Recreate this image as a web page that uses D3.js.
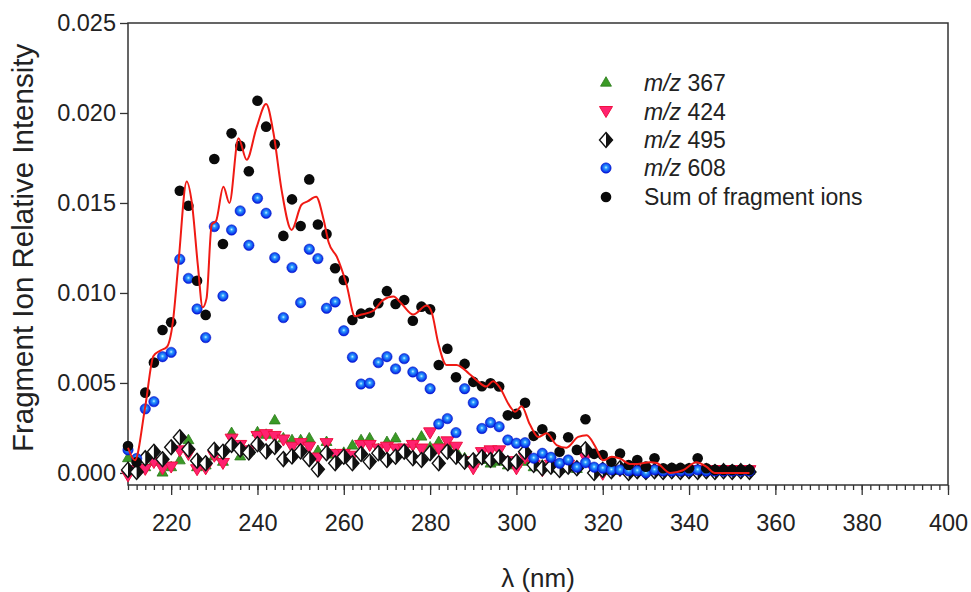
<!DOCTYPE html>
<html>
<head>
<meta charset="utf-8">
<script src="https://cdn.jsdelivr.net/npm/d3@7"></script>
<style>
  body { margin: 0; background: #fff; }
  text { font-family: "Liberation Sans", Arial, sans-serif; fill: #222; }
</style>
</head>
<body>
<div id="chart"></div>
<script>
// wavelength grid (nm)
const wavelength = [210,212,214,216,218,220,222,224,226,228,230,232,234,236,238,240,242,244,246,248,
  250,252,254,256,258,260,262,264,266,268,270,272,274,276,278,280,282,284,286,288,
  290,292,294,296,298,300,302,304,306,308,310,312,314,316,318,320,322,324,326,328,
  330,332,334,336,338,340,342,344,346,348,350,352,354];

// m/z 367
const mz367 = [0.0008,0.0003,0.0003,0.0006,0.0,0.0003,0.00068,0.0018,0.0003,0.0004,
  0.0009,0.0006,0.0022,0.0009,0.0012,0.00224,0.0021,0.0029,0.0019,0.0018,
  0.0018,0.0019,0.0012,0.0017,0.001,0.0011,0.0015,0.0018,0.0019,0.0013,
  0.0017,0.0019,0.0012,0.0016,0.002,0.0014,0.0017,0.0016,0.0012,0.0008,
  0.0005,0.0007,0.0005,0.0006,0.0004,0.0005,0.0006,0.0003,0.0004,0.0003,
  0.0002,0.0003,0.0002,0.0006,0.0001,0.0001,0.0001,0.0001,0.0001,0.0001,
  0.0001,0.0001,0.0001,0.0001,0.0001,0.0001,0.0001,0.0001,0.0001,0.0001,
  0.0001,0.0001,0.0001];

// m/z 424
const mz424 = [-0.0002,0.0001,0.00017,0.00055,0.0002,0.0003,0.0012,0.001,0.00015,0.0002,
  0.0009,0.0005,0.00185,0.0015,0.0012,0.002,0.0021,0.002,0.0018,0.0014,
  0.0016,0.0014,0.0008,0.0016,0.001,0.001,0.0009,0.0015,0.0015,0.0013,
  0.0014,0.0013,0.0013,0.0015,0.0013,0.0022,0.0013,0.0017,0.0014,0.0006,
  0.0002,0.0011,0.0012,0.0012,0.0006,0.0002,0.0008,0.0004,0.0001,0.0004,
  0.0002,0.0004,0.0002,0.0008,0.0001,-0.0001,0.0001,0.0001,0.0001,0.0001,
  0.0001,0.0001,0.0001,0.0001,0.0001,0.0001,0.0001,0.0001,0.0001,0.0001,
  0.0001,0.0001,0.0001];

// m/z 495
const mz495 = [0.00017,0.00005,0.00082,0.00118,0.00076,0.00143,0.00198,0.00131,0.00068,0.00054,
  0.00128,0.00118,0.00155,0.0013,0.00114,0.0016,0.0012,0.00145,0.00077,0.00092,
  0.0012,0.00077,0.0002,0.0011,0.00054,0.0009,0.00054,0.00105,0.00063,0.0011,
  0.00072,0.0009,0.00118,0.00082,0.00072,0.0011,0.00054,0.00118,0.0009,0.00063,
  0.0007,0.00087,0.00072,0.00087,0.00054,0.00063,0.00118,0.00045,0.00026,0.00035,
  0.00017,0.00035,0.00026,0.00131,0.0,0.00017,0.0001,0.00026,0.0,0.0001,
  0.00005,0.0001,0.00005,0.0001,0.00005,0.0001,0.00005,0.0001,0.00005,0.0001,
  0.00005,0.0001,0.00005];

// m/z 608
const mz608 = [0.00128,0.0008,0.00356,0.00396,0.00646,0.0067,0.01187,0.01081,0.00911,0.00752,
  0.01369,0.00983,0.0135,0.01456,0.01265,0.01526,0.01443,0.01196,0.00863,0.01141,
  0.00946,0.01243,0.01191,0.00915,0.0095,0.0079,0.00643,0.00494,0.00498,0.00613,
  0.00646,0.00578,0.00635,0.00561,0.00535,0.00468,0.00272,0.00302,0.00224,0.00468,
  0.0039,0.00247,0.0028,0.00257,0.00183,0.00165,0.00168,0.00082,0.00109,0.00087,
  0.00054,0.00072,0.00032,0.00057,0.00032,0.00026,0.00017,0.00017,0.00012,0.00012,
  0.0,0.00017,0.0001,0.0001,0.0001,0.0001,0.00017,0.0001,0.0001,0.0001,
  0.0001,0.0001,0.0001];

// sum of fragment ions
const sumIons = [0.0015,0.0006,0.00446,0.00613,0.00794,0.00837,0.01568,0.01485,0.01068,0.00878,
  0.01744,0.01272,0.01887,0.01817,0.01676,0.02068,0.01924,0.01826,0.01317,0.0152,
  0.01372,0.01631,0.0138,0.01328,0.01137,0.01072,0.0085,0.00885,0.0089,0.00943,
  0.0101,0.00939,0.00961,0.00846,0.00924,0.00909,0.006,0.0069,0.00532,0.00606,
  0.00506,0.00482,0.00498,0.0048,0.0032,0.00328,0.0039,0.00206,0.00243,0.00202,
  0.00118,0.00198,0.00128,0.00298,0.00106,0.001,0.00063,0.00108,0.00044,0.00072,
  0.00035,0.00081,0.00026,0.00028,0.00028,0.00026,0.00081,0.00026,0.00017,0.00017,
  0.00017,0.00017,0.00017];

// red smoothed curve
const fitNm = [210,211.6,214,215.9,217.5,219,220.4,221.7,223.6,224.8,226.2,227.3,228.2,229.4,230.4,
  232.1,233.5,235.6,237.5,239.8,242,243.7,245.6,247.9,250.2,251.7,253.6,255.3,256.5,258.4,
  260.6,262.6,264.1,266.8,269.1,271.5,273.4,276.1,279.2,280.4,281.9,283.8,286.1,289.1,291,
  293,294.6,296,298.5,299.7,301.2,303.1,305.1,307,309.3,311.6,314.3,316.3,318.2,320.1,
  322.1,324,326.3,328,331,332.5,335.6,338.6,341.7,344,346,354];
const fitVal = [0.0014,0.0007,0.0037,0.0065,0.0068,0.007,0.0084,0.0117,0.0162,0.015,0.0115,0.0092,0.0097,0.0138,0.014,
  0.0159,0.015,0.0186,0.0174,0.0192,0.0205,0.0189,0.0157,0.0135,0.0149,0.0151,0.01535,0.0141,0.0128,0.012,
  0.0105,0.0087,0.0088,0.009,0.0096,0.0098,0.0094,0.0088,0.0093,0.0089,0.0072,0.006,0.006,0.0055,0.0051,
  0.0048,0.0051,0.0048,0.0037,0.0034,0.0037,0.0027,0.002,0.0022,0.00155,0.0014,0.002,0.0021,0.0015,0.0007,
  0.0009,0.0008,0.0005,0.0005,0.0006,0.00055,0.0,0.00015,0.0006,0.00035,0.0,0.0];

const xTicks = [220,240,260,280,300,320,340,360,380,400];
const yTicks = [0.000,0.005,0.010,0.015,0.020,0.025];
const legendLabels = ["367","424","495","608","Sum of fragment ions"];

// setting up the margins
const svgWidth = 971;
const svgHeight = 592;
const margin = {top: 23, right: 23, bottom: 107, left: 128};
const width = svgWidth - margin.left - margin.right;
const height = svgHeight - margin.top - margin.bottom;

const svg = d3.select("#chart").append("svg")
  .attr("width", svgWidth)
  .attr("height", svgHeight);

svg.append("rect").attr("width", svgWidth).attr("height", svgHeight).attr("fill", "#fff");

const defs = svg.append("defs");
const grad = defs.append("radialGradient").attr("id", "sphere")
  .attr("cx", "50%").attr("cy", "45%").attr("r", "55%");
grad.append("stop").attr("offset", "0%").attr("stop-color", "#c8f6ff");
grad.append("stop").attr("offset", "28%").attr("stop-color", "#2a9cff");
grad.append("stop").attr("offset", "100%").attr("stop-color", "#0010e0");

const chartGroup = svg.append("g")
  .attr("transform", `translate(${margin.left}, ${margin.top})`);

const xScale = d3.scaleLinear().domain([210, 400]).range([0, width]);
const yScale = d3.scaleLinear().domain([-0.00067, 0.025]).range([height, 0]);

// axes
const leftAxis = d3.axisLeft(yScale).tickValues(yTicks).tickFormat(d3.format(".3f"))
  .tickSize(8).tickPadding(4);
const bottomMinor = d3.axisBottom(xScale).tickValues(d3.range(210, 401, 2)).tickFormat("")
  .tickSize(5);
const bottomAxis = d3.axisBottom(xScale).tickValues(xTicks).tickFormat(d3.format("d"))
  .tickSize(10).tickPadding(19);

const yAxis = chartGroup.append("g").call(leftAxis);
chartGroup.append("g").attr("transform", `translate(0, ${height})`).call(bottomMinor);
const xAxis = chartGroup.append("g").attr("transform", `translate(0, ${height})`).call(bottomAxis);

[yAxis, xAxis].forEach(a => a.selectAll("text").style("font-size", "23.5px"));
chartGroup.selectAll(".domain").remove();
chartGroup.selectAll(".tick line").attr("stroke", "#333").attr("stroke-width", 1.3);

chartGroup.append("rect")
  .attr("width", width).attr("height", height)
  .attr("fill", "none").attr("stroke", "#333").attr("stroke-width", 1.5);

// markers
const triUp = d3.symbol().type(d3.symbolTriangle).size(52);
const diamondPath = "M0,-7.5L6.5,0L0,7.5L-6.5,0Z";
const diamondHalf = "M0,-7.5L6.5,0L0,7.5Z";

function drawTriUp(g, x, y) {
  g.append("path").attr("d", triUp()).attr("transform", `translate(${x},${y})`)
    .attr("fill", "#3a9a26").attr("stroke", "#2a7a18").attr("stroke-width", 0.8);
}
function drawTriDown(g, x, y) {
  g.append("path").attr("d", "M-6.5,-5.5L6.5,-5.5L0,5.5Z").attr("transform", `translate(${x},${y})`)
    .attr("fill", "#ff2270").attr("stroke", "#f01040").attr("stroke-width", 1);
}
function drawDiamond(g, x, y) {
  const d = g.append("g").attr("transform", `translate(${x},${y})`);
  d.append("path").attr("d", diamondPath).attr("fill", "#fff").attr("stroke", "#111").attr("stroke-width", 1.4);
  d.append("path").attr("d", diamondHalf).attr("fill", "#111");
}
function drawSphere(g, x, y) {
  g.append("circle").attr("cx", x).attr("cy", y).attr("r", 5.2).attr("fill", "url(#sphere)")
    .attr("stroke", "#0010c0").attr("stroke-width", 0.5);
}
function drawDot(g, x, y) {
  g.append("circle").attr("cx", x).attr("cy", y).attr("r", 5.3).attr("fill", "#0a0a0a");
}

const series = [mz367, mz424, mz495, mz608, sumIons];
const drawers = [drawTriUp, drawTriDown, drawDiamond, drawSphere, drawDot];

series.forEach((vals, i) => {
  const g = chartGroup.append("g");
  vals.forEach((v, j) => drawers[i](g, xScale(wavelength[j]), yScale(v)));
});

// red smoothed line
const fitData = fitNm.map((n, i) => ({n: n, v: fitVal[i]}));
chartGroup.append("path")
  .datum(fitData)
  .attr("fill", "none")
  .attr("stroke", "#f01a14")
  .attr("stroke-width", 2)
  .attr("d", d3.line().x(d => xScale(d.n)).y(d => yScale(d.v)).curve(d3.curveMonotoneX));

// legend
const legend = svg.append("g");
const legendY = [83, 112, 140, 168, 197];
legendLabels.forEach((lab, i) => {
  drawers[i](legend, 606, legendY[i]);
  const t = legend.append("text").attr("x", 644).attr("y", legendY[i]).attr("dy", "0.36em")
    .style("font-size", "23px");
  if (i < 4) {
    t.append("tspan").style("font-style", "italic").text("m/z");
    t.append("tspan").text(" " + lab);
  } else {
    t.text(lab);
  }
});

// axis titles
svg.append("text")
  .attr("transform", `translate(33, ${margin.top + yScale(0.0125)}) rotate(-90)`)
  .attr("text-anchor", "middle")
  .style("font-size", "29.5px")
  .text("Fragment Ion Relative Intensity");

svg.append("text")
  .attr("x", margin.left + width / 2)
  .attr("y", 587)
  .attr("text-anchor", "middle")
  .style("font-size", "26px")
  .text("λ (nm)");
</script>
</body>
</html>
